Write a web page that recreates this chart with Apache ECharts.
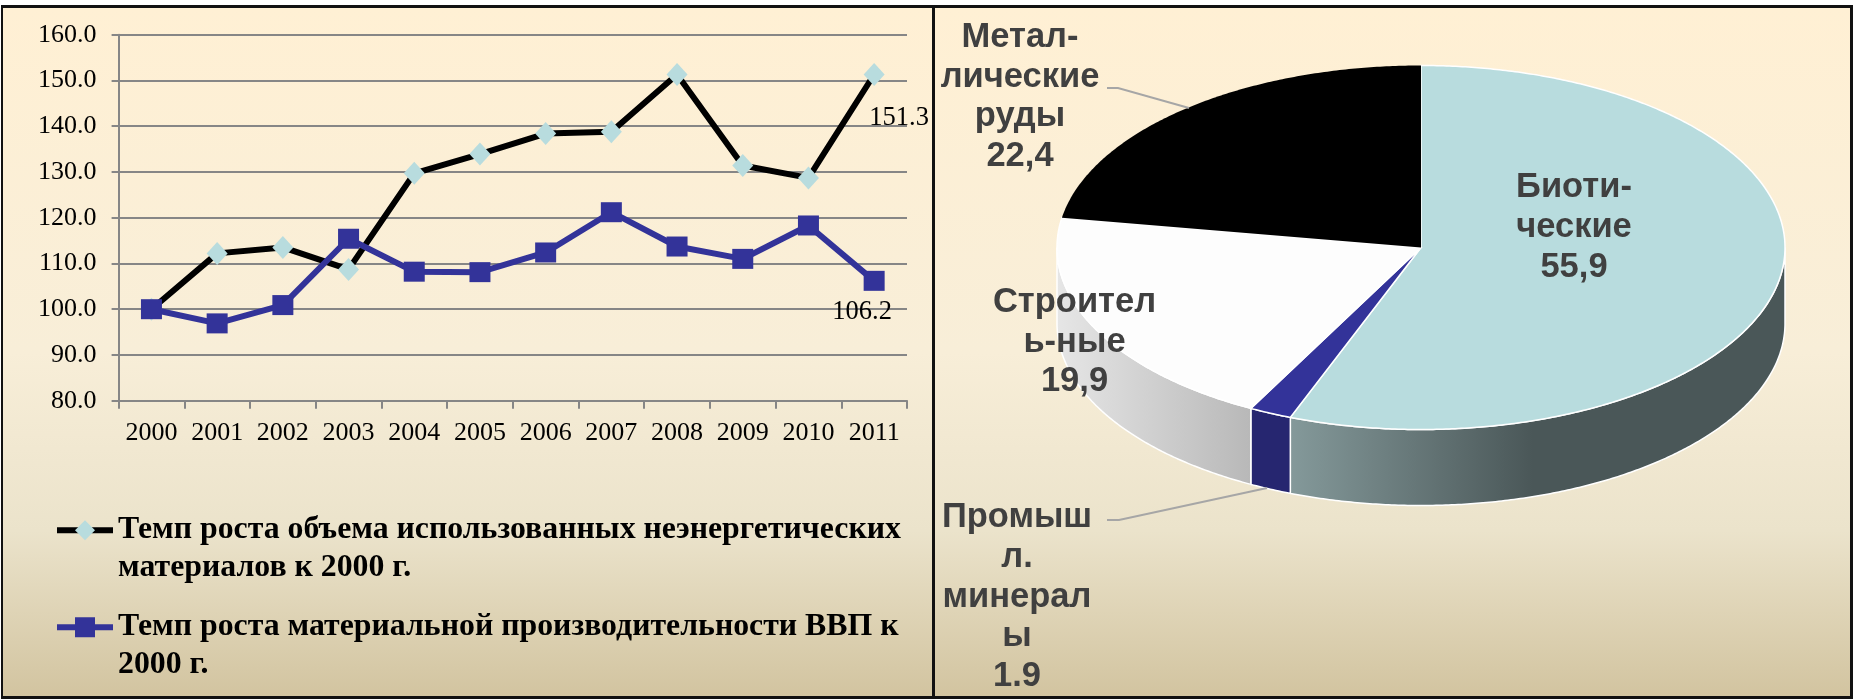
<!doctype html>
<html lang="ru">
<head>
<meta charset="utf-8"/>
<title>Темп роста и структура материалов</title>
<style>
  html, body { margin: 0; padding: 0; background: #fff; }
  body { width: 1855px; height: 699px; position: relative; overflow: hidden; }
  .panel { position: absolute; box-sizing: border-box; top: 5px; height: 694px;
           border: solid #111; border-width: 3px 0 3px 0;
           background: linear-gradient(#fff0d4 0%, #f8eed8 50%, #ebe3cb 76%, #d2c4a0 100%); }
  #left { left: 1px; width: 934px; border-left-width: 2px; border-right-width: 3px; }
  #right { left: 935px; width: 918px; border-right-width: 3px; }
  #chart { position: absolute; left: 0; top: 0; width: 1855px; height: 699px; }
</style>
</head>
<body>
<div class="panel" id="left"></div>
<div class="panel" id="right"></div>
<div id="chart"></div>
<script src="https://cdn.jsdelivr.net/npm/echarts@6/dist/echarts.min.js"></script>
<script>
// line chart data
const years = ["2000", "2001", "2002", "2003", "2004", "2005", "2006", "2007", "2008", "2009", "2010", "2011"];
const materialUse = [100.0, 112.2, 113.5, 108.7, 129.7, 133.9, 138.4, 138.8, 151.3, 131.4, 128.7, 151.3];
const productivity = [100.0, 96.9, 100.9, 115.4, 108.2, 108.1, 112.4, 121.2, 113.7, 111.0, 118.3, 106.2];
const materialUseName = "Темп роста объема использованных неэнергетических материалов к 2000 г.";
const productivityName = "Темп роста материальной производительности ВВП к 2000 г.";
const materialUseLines = ["Темп роста объема использованных неэнергетических", "материалов к 2000 г."];
const productivityLines = ["Темп роста материальной производительности ВВП к", "2000 г."];

// pie data, clockwise from 12 o'clock
const pieNames = ["Биотические", "Промышл. минералы", "Строительные", "Металлические руды"];
const pieValues = [55.9, 1.9, 19.9, 22.4];
const pieLabels = [
  ["Биоти-", "ческие", "55,9"],
  ["Промыш", "л.", "минерал", "ы", "1.9"],
  ["Строител", "ь-ные", "19,9"],
  ["Метал-", "лические", "руды", "22,4"],
];

// pie geometry and styling, kept apart from the values
const PIE = { cx: 1421, cy: 247.5, rx: 364, ry: 182, depth: 76 };
const TOP_COLORS = ["#b8dcde", "#333399", "#fdfdfd", "#000000"];
const sideFill = [
  [[1291, "#84999a"], [1533, "#4a5758"]],
  [[1252, "#262670"], [1291, "#262670"]],
  [[1057, "#e6e6e6"], [1252, "#b8b8b8"]],
  null,
];
const LABEL_POS = [[1574, 227.5], [1017, 597], [1074.5, 342], [1020, 97]];
const LEADERS = [
  null,
  [[1107, 520], [1119, 520], [1267, 488]],
  null,
  [[1107, 88], [1118, 88], [1189, 108]],
];

const total = pieValues.reduce((a, b) => a + b, 0);
const edge = (deg, dy = 0) => {
  const t = deg * Math.PI / 180;
  return [PIE.cx + PIE.rx * Math.sin(t), PIE.cy - PIE.ry * Math.cos(t) + dy];
};
const arc = (from, to, dy = 0) => {
  const pts = [];
  const n = Math.max(2, Math.ceil(Math.abs(to - from) * 2));
  for (let i = 0; i <= n; ++i) pts.push(edge(from + (to - from) * i / n, dy));
  return pts;
};

function renderSlice(params, api) {
  const i = params.dataIndex;
  const before = pieValues.slice(0, i).reduce((a, b) => a + b, 0);
  const start = before / total * 360;
  const end = start + api.value(0) / total * 360;
  const children = [];
  // side wall only shows on the front half
  const a = Math.max(start, 90);
  const b = Math.min(end, 270);
  if (b > a && sideFill[i]) {
    const stops = sideFill[i];
    const x0 = stops[0][0];
    const x1 = stops[1][0];
    children.push({
      type: "polygon",
      shape: { points: arc(a, b).concat(arc(b, a, PIE.depth)) },
      style: {
        fill: new echarts.graphic.LinearGradient(x0, 0, x1, 0, [
          { offset: 0, color: stops[0][1] },
          { offset: 1, color: stops[1][1] },
        ], true),
        stroke: "#fff",
        lineWidth: 1.5,
      },
    });
  }
  children.push({
    type: "polygon",
    shape: { points: [[PIE.cx, PIE.cy]].concat(arc(start, end)) },
    style: { fill: TOP_COLORS[i], stroke: i === 3 ? null : "#fff", lineWidth: 1.5 },
  });
  if (LEADERS[i]) {
    children.push({
      type: "polyline",
      shape: { points: LEADERS[i] },
      style: { fill: null, stroke: "#a6a6a6", lineWidth: 2 },
    });
  }
  children.push({
    type: "text",
    z2: 10,
    style: {
      x: LABEL_POS[i][0],
      y: LABEL_POS[i][1],
      text: pieLabels[i].join("\n"),
      align: "center",
      verticalAlign: "middle",
      fill: "#404040",
      font: 'bold 34.5px "Liberation Sans", sans-serif',
      lineHeight: 39.7,
    },
  });
  return { type: "group", children };
}

const serif = '"Liberation Serif", "Times New Roman", serif';
const lastLabel = (offset) => ({
  show: true, position: "bottom", distance: 0, offset,
  color: "#000", fontFamily: serif, fontSize: 26.5,
});
const withEndLabel = (values, offset) =>
  values.map((v, i) => (i === values.length - 1 ? { value: v, label: lastLabel(offset) } : v));
const legendBase = {
  orient: "vertical", left: 54, padding: 0, itemWidth: 56, itemHeight: 25, selectedMode: false,
  lineStyle: { width: "inherit" },
  textStyle: { fontFamily: serif, fontWeight: "bold", fontSize: 31.8, lineHeight: 37.5, color: "#000" },
};

const chart = echarts.init(document.getElementById("chart"), null, { renderer: "canvas" });
chart.setOption({
  animation: false,
  backgroundColor: "transparent",
  grid: { left: 118.6, right: 948, top: 34.7, bottom: 298.3, containLabel: false },
  legend: [
    { ...legendBase, top: 474, data: [materialUseName],
      formatter: () => "\n" + materialUseLines.join("\n") },
    { ...legendBase, top: 571, data: [productivityName],
      formatter: () => "\n" + productivityLines.join("\n") },
  ],
  xAxis: {
    type: "category",
    data: years,
    boundaryGap: true,
    axisLine: { lineStyle: { color: "#868686", width: 2 } },
    axisTick: { show: true, length: 8, alignWithLabel: false, lineStyle: { color: "#868686", width: 2 } },
    axisLabel: { color: "#000", fontFamily: serif, fontSize: 26, margin: 19, interval: 0 },
    splitLine: { show: false },
  },
  yAxis: {
    type: "value",
    min: 80,
    max: 160,
    interval: 10,
    axisLine: { show: true, lineStyle: { color: "#868686", width: 2 } },
    axisTick: { show: true, length: 7, lineStyle: { color: "#868686", width: 2 } },
    axisLabel: { color: "#000", fontFamily: serif, fontSize: 26, margin: 22, formatter: (v) => v.toFixed(1) },
    splitLine: { show: true, lineStyle: { color: "#868686", width: 2 } },
  },
  series: [
    {
      name: materialUseName,
      type: "line",
      data: withEndLabel(materialUse, [25, 19]),
      symbol: "diamond",
      symbolSize: [21, 23],
      showAllSymbol: true,
      lineStyle: { color: "#000", width: 6 },
      itemStyle: { color: "#b8dcde", opacity: 1 },
    },
    {
      name: productivityName,
      type: "line",
      data: withEndLabel(productivity, [-12, 8]),
      symbol: "rect",
      symbolSize: [21, 20],
      showAllSymbol: true,
      lineStyle: { color: "#333399", width: 6 },
      itemStyle: { color: "#333399", opacity: 1 },
    },
    {
      type: "custom",
      coordinateSystem: "none",
      silent: true,
      data: pieValues.map((v, i) => ({ name: pieNames[i], value: [v] })),
      renderItem: renderSlice,
    },
  ],
});
</script>
</body>
</html>
